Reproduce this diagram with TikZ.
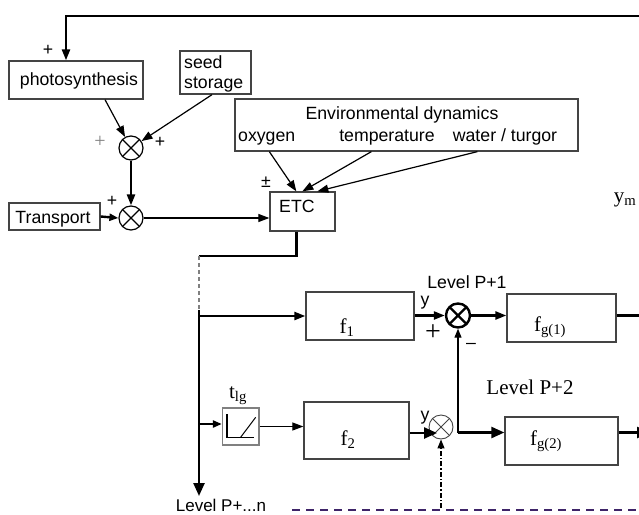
\documentclass[tikz,border=0pt]{standalone}
\usepackage{fontspec}
\setmainfont{Liberation Serif}
\setsansfont{Liberation Sans}
\usetikzlibrary{arrows.meta,calc}
\definecolor{boxgray}{HTML}{444444}
\definecolor{dpurple}{HTML}{3E2468}
\begin{document}
\begin{tikzpicture}[x=1pt,y=-1pt,
  box/.style={draw=boxgray, line width=1.3pt, inner sep=0pt, rectangle},
  sans/.style={font=\sffamily\fontsize{17.7}{20}\selectfont, inner sep=0pt, anchor=base},
  serif/.style={font=\rmfamily\fontsize{21}{24}\selectfont, inner sep=0pt, anchor=base},
  thk/.style={line width=2.4pt},
  thn/.style={line width=1.2pt},
  tipbig/.style={-{Triangle[length=13pt,width=11pt]}},
  tip/.style={-{Triangle[length=11pt,width=8pt]}},
  tipsm/.style={-{Triangle[length=9pt,width=7pt]}},
  sumj/.style={circle, draw, line width=#1, minimum size=24pt, inner sep=0pt,
    path picture={\draw[line width=#1]
      (path picture bounding box.north west) -- (path picture bounding box.south east)
      (path picture bounding box.north east) -- (path picture bounding box.south west);}},
]
\useasboundingbox (0,0) rectangle (639,514);
\clip (0,0) rectangle (639,514);
\fill[white] (0,0) rectangle (639,514);

% boxes
\node[box, minimum width=134pt, minimum height=38pt] (photo) at (76,80) {};
\node[box, minimum width=71pt, minimum height=43pt] (seed) at (215.5,72.5) {};
\node[box, minimum width=343pt, minimum height=52pt] (env) at (406.5,125) {};
\node[box, minimum width=91pt, minimum height=27pt] (trans) at (54.5,216.5) {};
\node[box, minimum width=65pt, minimum height=39pt] (etc) at (302.5,211.5) {};
\node[box, minimum width=108pt, minimum height=48pt] (f1) at (360,316) {};
\node[box, minimum width=109pt, minimum height=48pt] (fg1) at (561.5,318) {};
\node[box, minimum width=105pt, minimum height=57pt] (f2) at (356.5,430.5) {};
\node[box, minimum width=113pt, minimum height=48pt] (fg2) at (561.5,441) {};
\node[box, draw=gray, minimum width=36.5pt, minimum height=37pt] (ramp) at (240.75,426.5) {};
\draw[line width=1.6pt] ($(ramp.north west)+(5,7)$) -- ($(ramp.south west)+(5,-8)$) -- ($(ramp.south east)+(-6,-8)$);
\draw[line width=1pt] ($(ramp.south west)+(18.5,-8)$) -- ($(ramp.north east)+(-4,10)$);

% summing junctions
\node[sumj=1.2pt] (s1) at (131,148) {};
\node[sumj=1.2pt] (s2) at (131,218) {};
\node[sumj=2.4pt] (s3) at (458,315.5) {};
\node[sumj=0.9pt, draw=boxgray] (s4) at (441,427) {};

% texts
\node[sans] (tphoto) at (79,85) {photosynthesis};
\node[sans, anchor=base west] (tseed) at (184,68) {seed};
\node[sans, anchor=base west] (tstor) at (184,88) {storage};
\node[sans] (tenv) at (402,119) {Environmental dynamics};
\node[sans, anchor=base west] (toxy) at (238,141) {oxygen};
\node[sans] (ttemp) at (387,141) {temperature};
\node[sans] (twat) at (505,141) {water / turgor};
\node[sans] (ttrans) at (53,223) {Transport};
\node[sans, anchor=base west] (tetc) at (279,212) {ETC};
\node[sans] (tlev1) at (467,288) {Level P+1};
\node[sans, font=\sffamily\fontsize{17}{19}\selectfont] (tlevn) at (221,511) {Level P+...n};
\node[serif] (tlev2) at (530,394) {Level P+2};
\node[serif] (tym) at (625,202) {y\textsubscript{m}};
\node[serif] (tf1) at (347,333) {f\textsubscript{1}};
\node[serif] (tf2) at (348,445) {f\textsubscript{2}};
\node[serif] (tfg1) at (550,331) {f\textsubscript{g(1)}};
\node[serif] (tfg2) at (546,445) {f\textsubscript{g(2)}};
\node[serif] (ttlg) at (238,398) {t\textsubscript{lg}};

% signs
\node[sans, anchor=center] (p1) at (48,50) {+};
\node[font=\rmfamily\fontsize{20}{24}\selectfont, text=gray, inner sep=0pt] (p2) at (100,142) {+};
\node[sans, anchor=center] (p3) at (160,142) {+};
\node[sans, anchor=center] (p4) at (112,201) {+};
\node[sans, anchor=center] (pm) at (266,182) {±};
\node[sans, anchor=center] (y1) at (425,303) {y};
\node[font=\rmfamily\fontsize{28}{30}\selectfont, inner sep=0pt] (p5) at (433,333) {+};
\node[sans, anchor=center] (mn) at (471,346) {–};
\node[sans, anchor=center] (y2) at (425,418) {y};

% coordinates
\coordinate (fbR) at (645,15.7);
\coordinate (jtop) at (199,256);
\coordinate (jdash) at (199,310);
\coordinate (jbot) at (199,496);
\coordinate (b1) at (199,316);
\coordinate (b2) at (199,424);
\coordinate (k) at (458,432.5);
\coordinate (o1) at (645,315.5);
\coordinate (o2) at (650,432.5);
\coordinate (dd) at (441,508);
\coordinate (pl) at (292,509.5);

% connectors
\draw[thk,tip] (fbR) -| ([xshift=-10pt]photo.north);
\draw[thn,tip] ([xshift=29pt]photo.south) -- (s1);
\draw[thn,tip] ([xshift=-3.5pt]seed.south) -- (s1);
\draw[thk,tip] (s1) -- (s2);
\draw[thk,tipsm] (trans.east) -- (s2.west);
\draw[thn,tip] (s2.east) -- (s2.east -| etc.west);
\draw[thn,tip] ($(env.south west)+(35,0)$) -- ($(etc.north west)+(27,0)$);
\draw[thn,tip] ($(env.south west)+(137,0)$) -- ($(etc.north west)+(33,0)$);
\draw[thn,tip] ($(env.south west)+(243,0)$) -- ($(etc.north west)+(48,0)$);
\draw[thk] ($(etc.south west)+(27,0)$) |- (jtop);
\draw[thn, gray, dash pattern=on 4pt off 3pt] (jtop) -- (jdash);
\draw[thk,tipbig] (jdash) -- (jbot);
\draw[thk,tip] (b1) -- (b1 -| f1.west);
\draw[thk,tipsm] (b2) -- (b2 -| ramp.west);
\draw[thn,tip] (ramp.east) -- (ramp.east -| f2.west);
\draw[thk,tip] (f1.east |- s3) -- (s3.west);
\draw[thk,tip] (s3.east) -- (s3.east -| fg1.west);
\draw[thk] (o1 -| fg1.east) -- (o1);
\draw[thk,tipbig] ($(f2.east)+(0,2.5)$) -- ($(s4.center)+(-4,6)$);
\draw[thn,tipsm] (k) -- (s3.south);
\draw[thk,tipbig] (k) -- (k -| fg2.west);
\draw[thk,tipbig] (o2 -| fg2.east) -- (o2);
\draw[thn, dash pattern=on 5pt off 2pt on 1.5pt off 2pt, tipsm] (dd) -- (s4.south);
\draw[dpurple, line width=2pt, dash pattern=on 8pt off 6pt] (pl) -- (pl -| fbR);
\end{tikzpicture}
\end{document}
